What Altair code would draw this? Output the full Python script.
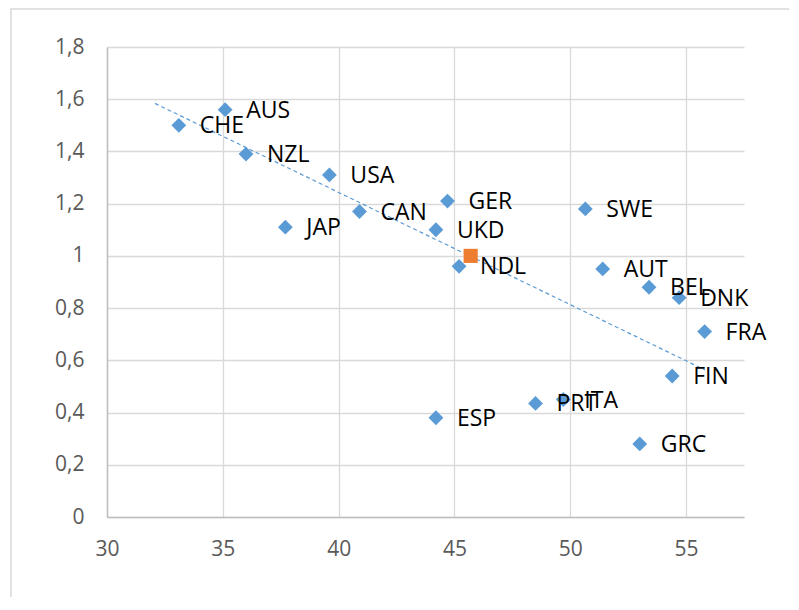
import altair as alt
import pandas as pd

# data
names = ["AUS", "CHE", "NZL", "USA", "CAN", "JAP", "GER", "UKD", "NDL", "SWE",
         "AUT", "BEL", "DNK", "FRA", "FIN", "ESP", "PRT", "ITA", "GRC"]
xs = [35.1, 33.1, 36.0, 39.6, 40.9, 37.7, 44.7, 44.2, 45.2, 50.65,
      51.4, 53.4, 54.7, 55.8, 54.4, 44.2, 48.5, 49.7, 53.0]
ys = [1.56, 1.50, 1.39, 1.31, 1.17, 1.11, 1.21, 1.10, 0.96, 1.18,
      0.95, 0.88, 0.84, 0.71, 0.54, 0.38, 0.435, 0.45, 0.28]

avg_x = [45.7]
avg_y = [1.0]

trend_x = [32.07, 55.82]
trend_y = [1.584, 0.563]

x_ticks = [30, 35, 40, 45, 50, 55]
y_ticks = [0, 0.2, 0.4, 0.6, 0.8, 1.0, 1.2, 1.4, 1.6, 1.8]

df = pd.DataFrame({"name": names, "x": xs, "y": ys})
avg = pd.DataFrame({"x": avg_x, "y": avg_y})
trend = pd.DataFrame({"x": trend_x, "y": trend_y})

FONT = "Open Sans"
BLUE = "#5b9bd5"
ORANGE = "#ed7d31"

xscale = alt.Scale(domain=[30, 57.5], nice=False, zero=False)
yscale = alt.Scale(domain=[0, 1.8], nice=False)

xaxis = alt.Axis(values=x_ticks, title=None, labelPadding=21, format="d",
                 labelFlush=False)
yaxis = alt.Axis(values=y_ticks, title=None, labelPadding=23, labelFlush=False,
                 labelExpr="replace(format(datum.value, '.1~f'), '.', ',')")

frame = alt.Chart(pd.DataFrame({"a": [0]})).mark_rect(
    fill=None, stroke="#d9d9d9", strokeWidth=1.5
).encode(
    x=alt.value(-96), x2=alt.value(900),
    y=alt.value(-38), y2=alt.value(800)
)

trend_line = alt.Chart(trend).mark_line(
    color=BLUE, strokeWidth=1.2, strokeDash=[4, 3]
).encode(
    x=alt.X("x:Q", scale=xscale, axis=xaxis),
    y=alt.Y("y:Q", scale=yscale, axis=yaxis),
)

points = alt.Chart(df).mark_point(
    shape="diamond", filled=True, color=BLUE, size=220, opacity=1
).encode(x="x:Q", y="y:Q")

avg_pt = alt.Chart(avg).mark_point(
    shape="square", filled=True, color=ORANGE, size=200, opacity=1
).encode(x="x:Q", y="y:Q")

labels = alt.Chart(df).mark_text(
    align="left", baseline="middle", dx=21, dy=1,
    font=FONT, fontSize=23, color="#000000"
).encode(x="x:Q", y="y:Q", text="name:N")

chart = alt.layer(frame, trend_line, points, avg_pt, labels).properties(
    width=637, height=470,
    autosize=alt.AutoSizeParams(type="none"),
    padding={"left": 99, "top": 39, "right": 45, "bottom": 80},
).configure_view(
    strokeWidth=0
).configure_axis(
    grid=True, gridColor="#d9d9d9", gridWidth=1.3,
    ticks=False, domainColor="#bfbfbf", domainWidth=1.5,
    labelFont=FONT, labelFontSize=21, labelColor="#595959",
)

chart.save("out.html", embed_options={"renderer": "svg", "actions": False})
